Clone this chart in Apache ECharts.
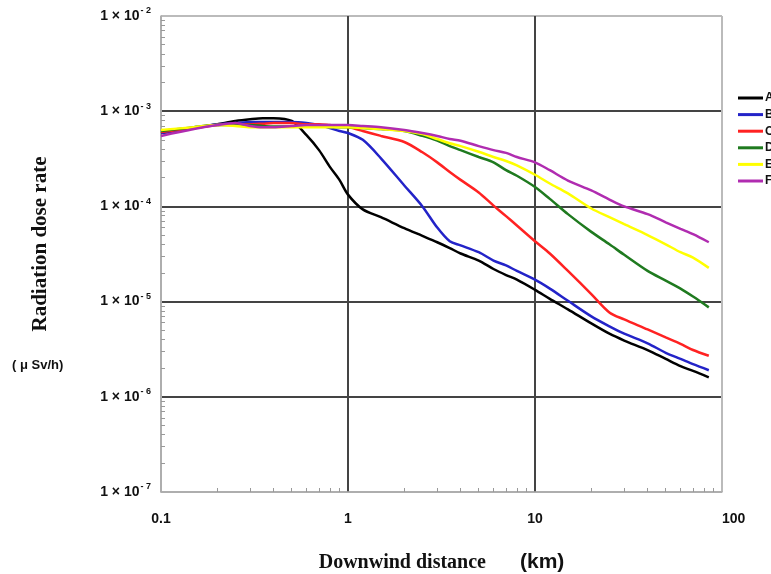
<!DOCTYPE html>
<html>
<head>
<meta charset="utf-8">
<script src="https://cdn.jsdelivr.net/npm/echarts@6/dist/echarts.min.js"></script>
<style>
  html, body { margin: 0; padding: 0; background: #fff; }
  #main { width: 771px; height: 574px; }
</style>
</head>
<body>
<div id="main"></div>
<script>
// downwind distance (km)
var distances = [0.1, 0.15, 0.2, 0.25, 0.3, 0.35, 0.4, 0.5, 0.6, 0.7, 0.8, 0.9, 1, 1.2, 1.5, 2, 2.5, 3, 3.5, 4,
    5, 6, 7, 8, 10, 12, 15, 20, 25, 30, 40, 50, 60, 70, 85];

// dose rate (uSv/h) per stability class
var classA = [5.9e-4, 6.65e-4, 7.3e-4, 7.9e-4, 8.25e-4, 8.45e-4, 8.45e-4, 7.9e-4, 5.6e-4, 3.9e-4, 2.6e-4, 1.9e-4, 1.33e-4, 9.3e-5, 7.7e-5, 5.9e-5, 4.9e-5, 4.2e-5, 3.65e-5, 3.2e-5,
    2.7e-5, 2.2e-5, 1.9e-5, 1.7e-5, 1.33e-5, 1.07e-5, 8.3e-6, 5.9e-6, 4.6e-6, 3.9e-6, 3.1e-6, 2.5e-6, 2.1e-6, 1.87e-6, 1.6e-6];
var classB = [5.9e-4, 6.65e-4, 7.3e-4, 7.5e-4, 7.7e-4, 7.7e-4, 7.7e-4, 7.7e-4, 7.5e-4, 7.15e-4, 6.65e-4, 6.2e-4, 5.9e-4, 5.0e-4, 3.2e-4, 1.66e-4, 1.0e-4, 6.0e-5, 4.3e-5, 3.9e-5,
    3.3e-5, 2.7e-5, 2.4e-5, 2.1e-5, 1.7e-5, 1.37e-5, 1.02e-5, 7.0e-6, 5.5e-6, 4.6e-6, 3.65e-6, 2.9e-6, 2.5e-6, 2.2e-6, 1.9e-6];
var classC = [6.05e-4, 6.65e-4, 7.15e-4, 7.3e-4, 7.3e-4, 7.4e-4, 7.5e-4, 7.5e-4, 7.3e-4, 7.3e-4, 7.15e-4, 7.0e-4, 6.8e-4, 6.2e-4, 5.5e-4, 4.75e-4, 3.7e-4, 2.9e-4, 2.3e-4, 1.9e-4,
    1.4e-4, 1.02e-4, 7.9e-5, 6.3e-5, 4.3e-5, 3.2e-5, 2.1e-5, 1.2e-5, 7.7e-6, 6.5e-6, 5.1e-6, 4.2e-6, 3.6e-6, 3.1e-6, 2.7e-6];
var classD = [6.2e-4, 6.8e-4, 7.15e-4, 7.15e-4, 7.15e-4, 7.0e-4, 6.9e-4, 6.9e-4, 6.9e-4, 6.9e-4, 6.85e-4, 6.8e-4, 6.8e-4, 6.65e-4, 6.5e-4, 6.2e-4, 5.5e-4, 4.9e-4, 4.3e-4, 3.9e-4,
    3.3e-4, 2.9e-4, 2.4e-4, 2.1e-4, 1.6e-4, 1.2e-4, 8.3e-5, 5.4e-5, 4.0e-5, 3.1e-5, 2.1e-5, 1.66e-5, 1.37e-5, 1.13e-5, 8.7e-6];
var classE = [6.35e-4, 6.8e-4, 7.15e-4, 7.0e-4, 6.8e-4, 6.8e-4, 6.8e-4, 6.8e-4, 6.8e-4, 6.8e-4, 6.8e-4, 6.8e-4, 6.8e-4, 6.65e-4, 6.5e-4, 6.2e-4, 5.75e-4, 5.1e-4, 4.6e-4, 4.3e-4,
    3.75e-4, 3.3e-4, 3.0e-4, 2.7e-4, 2.15e-4, 1.74e-4, 1.37e-4, 9.5e-5, 7.7e-5, 6.5e-5, 5.0e-5, 4.0e-5, 3.3e-5, 2.9e-5, 2.26e-5];
var classF = [5.5e-4, 6.5e-4, 7.15e-4, 7.5e-4, 7.0e-4, 6.8e-4, 6.8e-4, 7.0e-4, 7.15e-4, 7.15e-4, 7.15e-4, 7.15e-4, 7.15e-4, 7.0e-4, 6.8e-4, 6.35e-4, 5.9e-4, 5.5e-4, 5.1e-4, 4.9e-4,
    4.3e-4, 3.9e-4, 3.65e-4, 3.3e-4, 2.9e-4, 2.4e-4, 1.87e-4, 1.47e-4, 1.18e-4, 1.0e-4, 8.3e-5, 6.8e-5, 5.8e-5, 5.1e-5, 4.2e-5];

var classNames = ['A', 'B', 'C', 'D', 'E', 'F'];
var classValues = [classA, classB, classC, classD, classE, classF];
var classColors = ['#000000', '#2323c8', '#ff2222', '#1f7a1f', '#ffff00', '#b02cb0'];

var xTickLabels = ['0.1', '1', '10', '100'];

function pairs(ys) {
    var out = [];
    for (var i = 0; i < distances.length; i++) {
        out.push([distances[i], ys[i]]);
    }
    return out;
}

var myChart = echarts.init(document.getElementById('main'));

var series = [];
for (var k = 0; k < classNames.length; k++) {
    series.push({
        name: classNames[k],
        type: 'line',
        smooth: 0.3,
        showSymbol: false,
        symbol: 'none',
        lineStyle: { width: 2.5, color: classColors[k] },
        itemStyle: { color: classColors[k] },
        data: pairs(classValues[k])
    });
}

var option = {
    animation: false,
    backgroundColor: '#fff',
    grid: {
        left: 161,
        right: 49,
        top: 16,
        bottom: 82,
        outerBoundsMode: 'none'
    },
    legend: {
        left: 733,
        top: 87,
        orient: 'vertical',
        icon: 'rect',
        itemWidth: 25,
        itemHeight: 3,
        itemGap: 4.6,
        textStyle: { fontSize: 12, fontWeight: 'bold', fontFamily: 'Liberation Sans', color: '#111', padding: [0, 0, 0, -3] },
        data: classNames
    },
    xAxis: {
        type: 'log',
        logBase: 10,
        min: 0.1,
        max: 100,
        name: '{t|Downwind distance}{u|(km)}',
        nameLocation: 'middle',
        nameGap: 60,
        nameTextStyle: {
            rich: {
                t: { fontFamily: 'Liberation Serif', fontWeight: 'bold', fontSize: 20, color: '#111' },
                u: { fontFamily: 'Liberation Sans', fontWeight: 'bold', fontSize: 21, color: '#111', padding: [0, 0, 0, 34] }
            }
        },
        axisLine: { show: true, lineStyle: { color: '#aaa', width: 1.5 } },
        axisTick: { show: false, inside: true },
        minorTick: { show: true, splitNumber: 9, length: 4, lineStyle: { color: '#999' } },
        axisLabel: {
            margin: 20,
            fontSize: 14,
            fontWeight: 'bold',
            fontFamily: 'Liberation Sans',
            color: '#111',
            alignMaxLabel: 'left',
            formatter: function (v) {
                var i = Math.round(Math.log10(v)) + 1;
                return xTickLabels[i];
            }
        },
        splitLine: {
            show: true,
            lineStyle: { color: ['#bbb', '#444', '#444', '#bbb'], width: 2 }
        }
    },
    yAxis: {
        type: 'log',
        logBase: 10,
        min: 1e-7,
        max: 1e-2,
        name: 'Radiation dose rate',
        nameLocation: 'middle',
        nameGap: 110,
        nameTextStyle: {
            fontFamily: 'Liberation Serif',
            fontWeight: 'bold',
            fontSize: 21,
            color: '#111',
            padding: [0, 0, 0, 20]
        },
        axisLine: { show: true, lineStyle: { color: '#aaa', width: 1.5 } },
        axisTick: { show: false, inside: true },
        minorTick: { show: true, splitNumber: 9, length: 4, lineStyle: { color: '#999' } },
        axisLabel: {
            margin: 10,
            formatter: function (v) {
                var e = Math.round(Math.log10(v));
                return '{m|1 × 10}{e|' + (e < 0 ? '- ' : '') + Math.abs(e) + '}';
            },
            rich: {
                m: { fontSize: 14, fontWeight: 'bold', fontFamily: 'Liberation Sans', color: '#111' },
                e: { fontSize: 9, fontWeight: 'bold', fontFamily: 'Liberation Sans', color: '#111', padding: [0, 0, 10, 1] }
            }
        },
        splitLine: {
            show: true,
            lineStyle: { color: ['#bbb', '#444', '#444', '#444', '#444', '#bbb'], width: 2 }
        }
    },
    graphic: [{
        type: 'text',
        left: 12,
        top: 359,
        style: {
            text: '( μ Sv/h)',
            font: 'bold 13px "Liberation Sans"',
            fill: '#111'
        }
    }],
    series: series
};

myChart.setOption(option);
</script>
</body>
</html>
